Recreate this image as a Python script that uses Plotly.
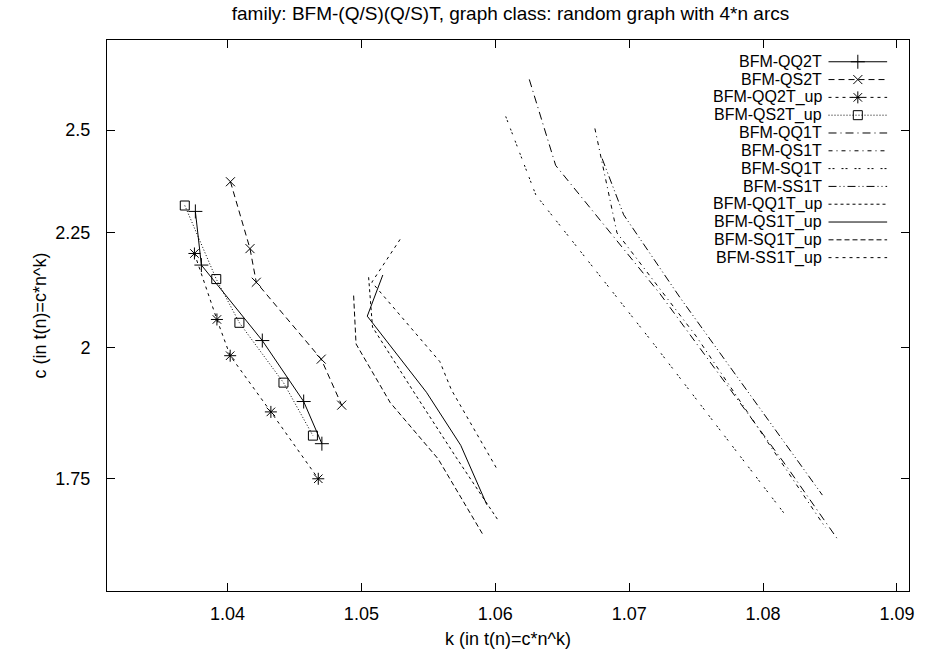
import plotly.graph_objects as go

# ---- data (k, c) per series ----
qq2t_k = [1.0376, 1.03805, 1.0426, 1.04569, 1.04705]
qq2t_c = [2.300, 2.177, 2.015, 1.893, 1.813]
qs2t_k = [1.04022, 1.04168, 1.04215, 1.0470, 1.04853]
qs2t_c = [2.371, 2.214, 2.139, 1.977, 1.886]
qq2t_up_k = [1.03753, 1.03921, 1.0402, 1.04324, 1.04678]
qq2t_up_c = [2.203, 2.059, 1.984, 1.873, 1.749]
qs2t_up_k = [1.03681, 1.03916, 1.04089, 1.04418, 1.04638]
qs2t_up_c = [2.314, 2.146, 2.052, 1.930, 1.828]
qq1t_k = [1.06254, 1.06451, 1.0723, 1.08171, 1.08566]
qq1t_c = [2.633, 2.411, 2.114, 1.773, 1.641]
qs1t_k = [1.06744, 1.06909, 1.07503, 1.08468]
qs1t_c = [2.504, 2.250, 2.023, 1.663]
sq1t_k = [1.06078, 1.06303, 1.07181, 1.08158]
sq1t_c = [2.535, 2.339, 2.009, 1.688]
ss1t_k = [1.06798, 1.06959, 1.07379, 1.08443]
ss1t_c = [2.428, 2.292, 2.106, 1.720]
qq1t_up_k = [1.05054, 1.05083, 1.05388, 1.05707, 1.06019]
qq1t_up_c = [2.150, 2.043, 1.913, 1.788, 1.677]
qs1t_up_k = [1.0516, 1.05044, 1.05486, 1.05742, 1.05937]
qs1t_up_c = [2.155, 2.066, 1.911, 1.810, 1.703]
sq1t_up_k = [1.04942, 1.0496, 1.05215, 1.05573, 1.05907]
sq1t_up_c = [2.110, 2.008, 1.891, 1.785, 1.652]
ss1t_up_k = [1.05289, 1.05078, 1.05586, 1.05672, 1.06019]
ss1t_up_c = [2.235, 2.139, 1.972, 1.916, 1.764]

names = ["BFM-QQ2T", "BFM-QS2T", "BFM-QQ2T_up", "BFM-QS2T_up",
         "BFM-QQ1T", "BFM-QS1T", "BFM-SQ1T", "BFM-SS1T",
         "BFM-QQ1T_up", "BFM-QS1T_up", "BFM-SQ1T_up", "BFM-SS1T_up"]
xs = [qq2t_k, qs2t_k, qq2t_up_k, qs2t_up_k, qq1t_k, qs1t_k, sq1t_k, ss1t_k,
      qq1t_up_k, qs1t_up_k, sq1t_up_k, ss1t_up_k]
ys = [qq2t_c, qs2t_c, qq2t_up_c, qs2t_up_c, qq1t_c, qs1t_c, sq1t_c, ss1t_c,
      qq1t_up_c, qs1t_up_c, sq1t_up_c, ss1t_up_c]

x_ticks = [1.04, 1.05, 1.06, 1.07, 1.08, 1.09]
y_ticks = [1.75, 2, 2.25, 2.5]
y_ticktext = ["1.75", "2", "2.25", "2.5"]

# ---- styles ----
dashes = ["solid", "6px,4px", "3px,4px", "1px,2px",
          "8px,4px,1px,4px", "4px,4px,1px,4px", "2px,2px,2px,7px", "8px,3px,1px,3px,1px,3px",
          "3px,3px", "solid", "5px,3px", "3px,4px"]
symbols = ["cross-thin-open", "x-thin-open", "asterisk-open", "square-open"] + [None] * 8
msizes = [10, 9, 10, 9]

FONT = "Liberation Sans, Arial"
FS = 18
KEY_FS = 16

fig = go.Figure()
for i, (n, x, y) in enumerate(zip(names, xs, ys)):
    mode = "lines+markers" if symbols[i] else "lines"
    marker = dict(symbol=symbols[i], size=msizes[i], color="black",
                  line=dict(color="black", width=1)) if symbols[i] else None
    fig.add_trace(go.Scatter(x=x, y=y, mode=mode, name=n, showlegend=False,
                             line=dict(color="black", width=1, dash=dashes[i]),
                             marker=marker))

# ---- gnuplot-style key (text right, sample on right) ----
L, R, T, B = 107, 914, 40, 597
W, H = R - L, B - T
row0, step = 62, 18
for i, n in enumerate(names):
    yp = (B - (row0 + i * step)) / H
    fig.add_annotation(x=(827 - L) / W, y=yp, xref="paper", yref="paper", text=n,
                       showarrow=False, xanchor="right", yanchor="middle", borderpad=0,
                       font=dict(size=KEY_FS, color="black", family=FONT))
    x0, x1 = (833 - L) / W, (892 - L) / W
    if symbols[i]:
        fig.add_trace(go.Scatter(x=[x0, (x0 + x1) / 2, x1], y=[yp] * 3, xaxis="x2", yaxis="y2",
                                 mode="lines", showlegend=False, hoverinfo="skip",
                                 line=dict(color="black", width=1, dash=dashes[i])))
        fig.add_trace(go.Scatter(x=[(x0 + x1) / 2], y=[yp], xaxis="x2", yaxis="y2",
                                 mode="markers", showlegend=False, hoverinfo="skip",
                                 marker=dict(symbol=symbols[i], size=msizes[i], color="black",
                                             line=dict(color="black", width=1))))
    else:
        fig.add_trace(go.Scatter(x=[x0, x1], y=[yp] * 2, xaxis="x2", yaxis="y2",
                                 mode="lines", showlegend=False, hoverinfo="skip",
                                 line=dict(color="black", width=1, dash=dashes[i])))

axis_font = dict(size=FS, color="black", family=FONT)
fig.update_layout(
    width=926, height=657,
    margin=dict(l=L, r=926 - R, t=T, b=657 - B),
    paper_bgcolor="white", plot_bgcolor="white",
    font=axis_font,
    title=dict(text="family: BFM-(Q/S)(Q/S)T, graph class: random graph with 4*n arcs",
               x=(L + R) / 2 / 926, xanchor="center", y=1 - 13 / 657, yanchor="middle",
               font=dict(size=19, color="black", family=FONT)),
    xaxis=dict(range=[1.031, 1.0909], tickvals=x_ticks, ticktext=[f"{v:.2f}" for v in x_ticks],
               showgrid=False, zeroline=False, showline=True, linecolor="black", linewidth=1,
               mirror="allticks", ticks="inside", ticklen=8, tickcolor="black",
               ticklabelstandoff=6, tickfont=axis_font,
               title=dict(text="k (in t(n)=c*n^k)", standoff=9, font=axis_font)),
    yaxis=dict(type="log", range=[0.19286, 0.43799], tickvals=y_ticks, ticktext=y_ticktext,
               showgrid=False, zeroline=False, showline=True, linecolor="black", linewidth=1,
               mirror="allticks", ticks="inside", ticklen=8, tickcolor="black",
               ticklabelstandoff=12, tickfont=axis_font,
               title=dict(text="c (in t(n)=c*n^k)", standoff=4, font=axis_font)),
    xaxis2=dict(range=[0, 1], overlaying="x", visible=False, fixedrange=True),
    yaxis2=dict(range=[0, 1], overlaying="y", visible=False, fixedrange=True),
)
fig.write_html("out.html")
